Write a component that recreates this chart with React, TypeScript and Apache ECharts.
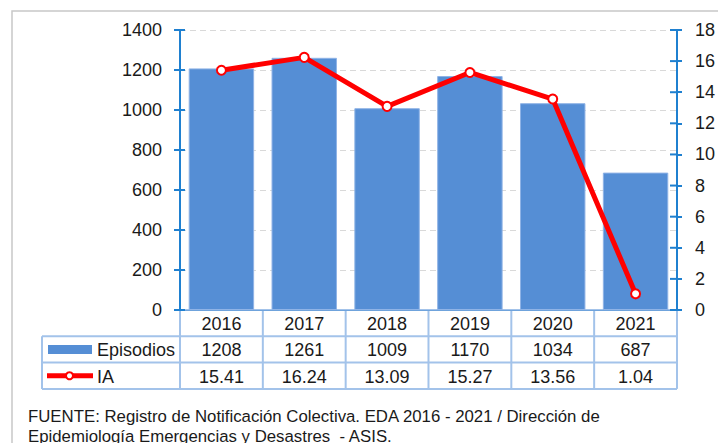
import React, { useEffect, useRef } from "react";
import * as echarts from "echarts";

const categories = ["2016", "2017", "2018", "2019", "2020", "2021"];
const episodios = [1208, 1261, 1009, 1170, 1034, 687];
const ia = [15.41, 16.24, 13.09, 15.27, 13.56, 1.04];
const seriesNames = ["Episodios", "IA"];
const iaLabels = ["15.41", "16.24", "13.09", "15.27", "13.56", "1.04"];
const leftTicks = [0, 200, 400, 600, 800, 1000, 1200, 1400];
const rightTicks = [0, 2, 4, 6, 8, 10, 12, 14, 16, 18];
const footerLines = [
  "FUENTE: Registro de Notificación Colectiva. EDA 2016 - 2021 / Dirección de",
  "Epidemiología Emergencias y Desastres  - ASIS.",
];

const FONT = "'Liberation Sans', Arial, sans-serif";
const AXIS_BLUE = "#1f80d0";
const BAR_BLUE = "#558ed5";
const TABLE_LINE = "#a3c3ea";
const RED = "#ff0000";

export default function App() {
  const ref = useRef<HTMLDivElement>(null);
  useEffect(() => {
    if (!ref.current) return;
    const chart = echarts.init(ref.current, null, { renderer: "svg" });
    chart.setOption({
      animation: false,
      textStyle: { fontFamily: FONT },
      grid: { left: 180, right: 41, top: 30, bottom: 133, containLabel: false },
      xAxis: {
        type: "category",
        data: categories,
        axisLine: { show: true, lineStyle: { color: "#6fa3dc", width: 1 } },
        axisTick: { show: false },
        axisLabel: { show: false },
      },
      yAxis: [
        {
          type: "value",
          min: leftTicks[0],
          max: leftTicks[leftTicks.length - 1],
          interval: leftTicks[1] - leftTicks[0],
          position: "left",
          axisLine: { show: true, lineStyle: { color: AXIS_BLUE, width: 2 } },
          axisTick: { show: true, inside: false, length: 6, lineStyle: { color: AXIS_BLUE, width: 2 } },
          axisLabel: {
            color: "#1a1a1a",
            fontSize: 18,
            fontFamily: FONT,
            margin: 18,
            formatter: (v: number) => String(v),
          },
          splitLine: { show: true, lineStyle: { color: "#d9d9d9", width: 1, type: [6, 4] } },
        },
        {
          type: "value",
          min: rightTicks[0],
          max: rightTicks[rightTicks.length - 1],
          interval: rightTicks[1] - rightTicks[0],
          position: "right",
          axisLine: { show: true, lineStyle: { color: AXIS_BLUE, width: 2 } },
          axisTick: { show: true, inside: false, length: 5, lineStyle: { color: AXIS_BLUE, width: 2 } },
          axisLabel: {
            color: "#1a1a1a",
            fontSize: 18,
            fontFamily: FONT,
            margin: 18,
            formatter: (v: number) => String(v),
          },
          splitLine: { show: false },
        },
      ],
      series: [
        {
          name: seriesNames[0],
          type: "bar",
          yAxisIndex: 0,
          data: episodios,
          barCategoryGap: "21%",
          itemStyle: { color: BAR_BLUE, borderColor: "#8fb3e6", borderWidth: 1 },
          z: 2,
        },
        {
          name: seriesNames[1],
          type: "line",
          yAxisIndex: 1,
          data: ia,
          symbol: "circle",
          symbolSize: 9,
          lineStyle: { color: RED, width: 5 },
          itemStyle: { color: "#ffffff", borderColor: RED, borderWidth: 2 },
          z: 5,
        },
      ],
    });

    const centers = categories.map((c) => chart.convertToPixel({ xAxisIndex: 0 }, c) as number);
    const band = centers.length > 1 ? centers[1] - centers[0] : 80;
    const x0 = centers[0] - band / 2;
    const xEnd = centers[centers.length - 1] + band / 2;
    const yTop = chart.convertToPixel({ yAxisIndex: 0 }, 0) as number;
    const rowH = 26.3;
    const rows = [yTop, yTop + rowH, yTop + 2 * rowH, yTop + 3 * rowH];
    const legendLeft = 42;
    const g: any[] = [];
    const lineStyle = { stroke: TABLE_LINE, lineWidth: 2 };
    const tickStyle = { stroke: AXIS_BLUE, lineWidth: 2 };
    leftTicks.forEach((v) => {
      const y = chart.convertToPixel({ yAxisIndex: 0 }, v) as number;
      g.push({ type: "line", shape: { x1: x0, y1: y, x2: x0 + 5, y2: y }, style: tickStyle, z: 10 });
    });
    rightTicks.forEach((v) => {
      const y = chart.convertToPixel({ yAxisIndex: 1 }, v) as number;
      g.push({ type: "line", shape: { x1: xEnd - 7, y1: y, x2: xEnd, y2: y }, style: tickStyle, z: 10 });
    });
    g.push({
      type: "rect",
      shape: { x: 12, y: 11, width: 900, height: 600 },
      style: { fill: "none", stroke: "#c8c8c8", lineWidth: 1.5 },
      silent: true,
    });
    g.push({ type: "line", shape: { x1: x0, y1: rows[0], x2: xEnd, y2: rows[0] }, style: lineStyle });
    for (let r = 1; r < 4; r++) {
      g.push({ type: "line", shape: { x1: legendLeft, y1: rows[r], x2: xEnd, y2: rows[r] }, style: lineStyle });
    }
    for (let i = 0; i <= categories.length; i++) {
      const x = x0 + band * i;
      g.push({ type: "line", shape: { x1: x, y1: rows[0], x2: x, y2: rows[3] }, style: lineStyle });
    }
    g.push({ type: "line", shape: { x1: legendLeft, y1: rows[1], x2: legendLeft, y2: rows[3] }, style: lineStyle });
    const cellText = (x: number, y: number, text: string, align = "center") => ({
      type: "text",
      x,
      y,
      style: {
        text,
        fill: "#1a1a1a",
        font: `18px ${FONT}`,
        align,
        verticalAlign: "middle",
      },
    });
    categories.forEach((c, i) => {
      g.push(cellText(centers[i], (rows[0] + rows[1]) / 2 + 1, c));
      g.push(cellText(centers[i], (rows[1] + rows[2]) / 2 + 1, String(episodios[i])));
      g.push(cellText(centers[i], (rows[2] + rows[3]) / 2 + 1, iaLabels[i]));
    });
    const r1 = (rows[1] + rows[2]) / 2;
    const r2 = (rows[2] + rows[3]) / 2;
    g.push({ type: "rect", shape: { x: 48, y: r1 - 4.5, width: 44, height: 9 }, style: { fill: BAR_BLUE } });
    g.push(cellText(97, r1 + 1, seriesNames[0], "left"));
    g.push({ type: "line", shape: { x1: 47, y1: r2, x2: 93, y2: r2 }, style: { stroke: RED, lineWidth: 5 } });
    g.push({ type: "circle", shape: { cx: 69.5, cy: r2, r: 3.5 }, style: { fill: "#fff", stroke: RED, lineWidth: 2 } });
    g.push(cellText(97, r2 + 1, seriesNames[1], "left"));
    footerLines.forEach((t, i) => {
      g.push({
        type: "text",
        x: 28,
        y: 416.5 + i * 20,
        style: { text: t, fill: "#1a1a1a", font: `16.8px ${FONT}`, align: "left", verticalAlign: "middle" },
      });
    });
    chart.setOption({ graphic: g });
    return () => chart.dispose();
  }, []);
  return (
    <div
      ref={ref}
      style={{ position: "fixed", left: 0, top: 0, width: 718, height: 443, background: "#fff" }}
    />
  );
}
